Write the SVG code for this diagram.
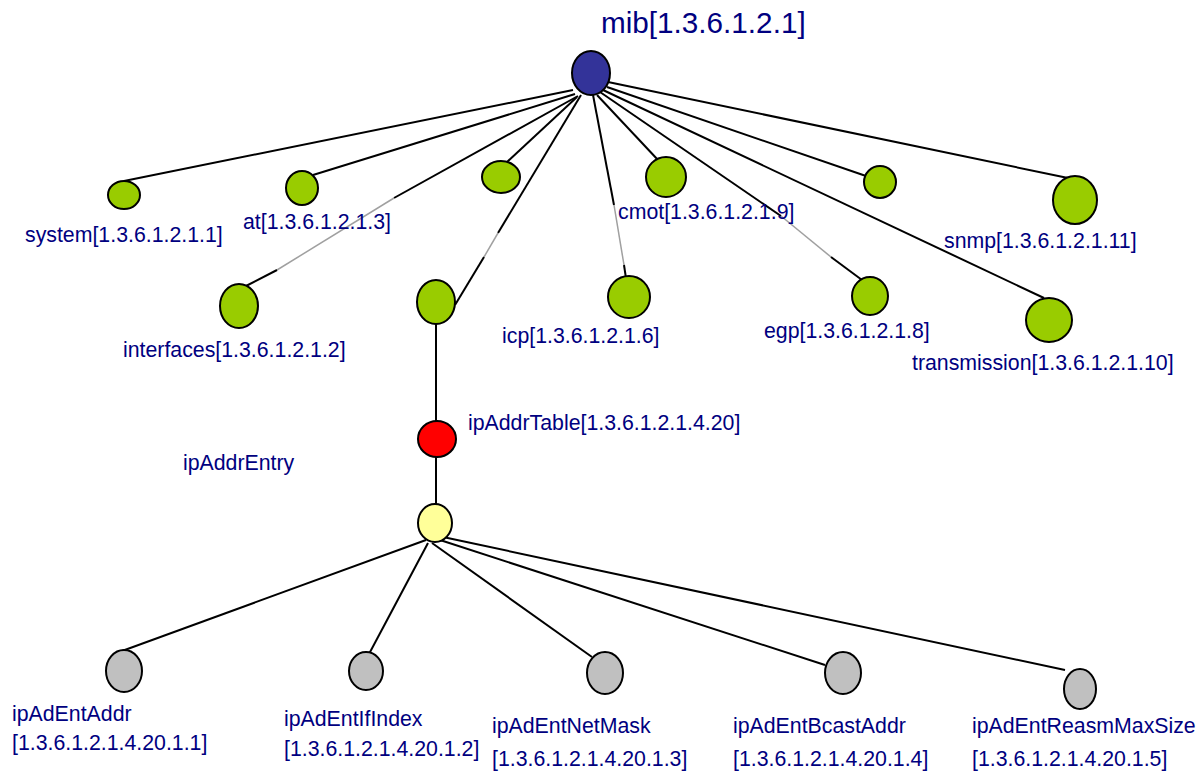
<svg xmlns="http://www.w3.org/2000/svg" width="1204" height="771" viewBox="0 0 1204 771">
  <style>
    .edge { stroke: #000; stroke-width: 2; fill: none; }
    .faint { stroke: #a0a0a0; stroke-width: 1.5; fill: none; }
    .node { stroke: #000; stroke-width: 2; }
    .root { fill: #333399; }
    .grp { fill: #99cc00; }
    .table { fill: #ff0000; }
    .entry { fill: #ffff99; }
    .leaf { fill: #c0c0c0; }
    text { font-family: "Liberation Sans", Arial, sans-serif; font-size: 21.3px; fill: #000080; }
    .title { font-size: 29.7px; }
  </style>
  <rect width="1204" height="771" fill="#fff"/>

  <!-- connectors -->
  <g id="connectors">
    <line class="edge" x1="573" y1="90" x2="124" y2="181"/>
    <line class="edge" x1="575" y1="94" x2="313" y2="175"/>
    <line class="edge" x1="577" y1="97" x2="507" y2="162"/>
    <!-- interfaces -->
    <line class="edge" x1="578" y1="96" x2="394" y2="198"/>
    <line class="faint" x1="394" y1="198" x2="277" y2="270"/>
    <line class="edge" x1="277" y1="270" x2="246" y2="286"/>
    <!-- ip -->
    <line class="edge" x1="581" y1="95" x2="498" y2="233"/>
    <line class="faint" x1="498" y1="233" x2="484" y2="257"/>
    <line class="edge" x1="484" y1="257" x2="455" y2="305"/>
    <!-- icp -->
    <line class="edge" x1="593" y1="95" x2="614" y2="205"/>
    <line class="faint" x1="614" y1="205" x2="624" y2="265"/>
    <line class="edge" x1="624" y1="265" x2="627" y2="285"/>
    <line class="edge" x1="597" y1="95" x2="658" y2="160"/>
    <!-- egp -->
    <line class="edge" x1="600" y1="92" x2="781" y2="216"/>
    <line class="faint" x1="781" y1="216" x2="831" y2="257"/>
    <line class="edge" x1="831" y1="257" x2="862" y2="280"/>
    <line class="edge" x1="603" y1="90" x2="1044" y2="298"/>
    <line class="edge" x1="607" y1="87" x2="866" y2="176"/>
    <line class="edge" x1="608" y1="82" x2="1068" y2="178"/>
    <!-- ip subtree -->
    <line class="edge" x1="436" y1="324" x2="436" y2="421"/>
    <line class="edge" x1="436" y1="457" x2="436" y2="504"/>
    <line class="edge" x1="426" y1="540" x2="122" y2="651"/>
    <line class="edge" x1="428" y1="543" x2="369" y2="654"/>
    <line class="edge" x1="432" y1="543" x2="592" y2="657"/>
    <line class="edge" x1="440" y1="540" x2="825" y2="665"/>
    <line class="edge" x1="443" y1="537" x2="1065" y2="670"/>
  </g>

  <g id="mib">
    <ellipse class="node root" cx="591" cy="73" rx="19" ry="22"/>
    <text class="title" x="601" y="33">mib[1.3.6.1.2.1]</text>
  </g>
  <g id="system">
    <ellipse class="node grp" cx="124" cy="195" rx="16" ry="14"/>
    <text x="25" y="242">system[1.3.6.1.2.1.1]</text>
  </g>
  <g id="at">
    <ellipse class="node grp" cx="302" cy="188" rx="16" ry="17"/>
    <text x="243" y="229">at[1.3.6.1.2.1.3]</text>
  </g>
  <g id="node-unnamed-1">
    <ellipse class="node grp" cx="501" cy="177" rx="19" ry="16"/>
  </g>
  <g id="interfaces">
    <ellipse class="node grp" cx="239" cy="306" rx="19" ry="22"/>
    <text x="123" y="357">interfaces[1.3.6.1.2.1.2]</text>
  </g>
  <g id="ip">
    <ellipse class="node grp" cx="436" cy="302" rx="19" ry="22"/>
  </g>
  <g id="cmot">
    <ellipse class="node grp" cx="666" cy="177" rx="20" ry="20"/>
    <text x="618" y="219">cmot[1.3.6.1.2.1.9]</text>
  </g>
  <g id="icp">
    <ellipse class="node grp" cx="629" cy="297" rx="21" ry="21"/>
    <text x="502" y="343">icp[1.3.6.1.2.1.6]</text>
  </g>
  <g id="egp">
    <ellipse class="node grp" cx="870" cy="296" rx="18" ry="19"/>
    <text x="764" y="338">egp[1.3.6.1.2.1.8]</text>
  </g>
  <g id="node-unnamed-2">
    <ellipse class="node grp" cx="880" cy="182" rx="16" ry="16"/>
  </g>
  <g id="snmp">
    <ellipse class="node grp" cx="1075" cy="200" rx="22" ry="24"/>
    <text x="944" y="248">snmp[1.3.6.1.2.1.11]</text>
  </g>
  <g id="transmission">
    <ellipse class="node grp" cx="1049" cy="320" rx="23" ry="22"/>
    <text x="912" y="370">transmission[1.3.6.1.2.1.10]</text>
  </g>
  <g id="ipAddrTable">
    <ellipse class="node table" cx="437" cy="439" rx="19" ry="18"/>
    <text x="468" y="430">ipAddrTable[1.3.6.1.2.1.4.20]</text>
  </g>
  <g id="ipAddrEntry">
    <ellipse class="node entry" cx="435" cy="523" rx="17" ry="19"/>
    <text x="183" y="470">ipAddrEntry</text>
  </g>
  <g id="ipAdEntAddr">
    <ellipse class="node leaf" cx="124" cy="671" rx="18" ry="21"/>
    <text x="12" y="721">ipAdEntAddr</text>
    <text x="12" y="750">[1.3.6.1.2.1.4.20.1.1]</text>
  </g>
  <g id="ipAdEntIfIndex">
    <ellipse class="node leaf" cx="366" cy="671" rx="17" ry="19"/>
    <text x="284" y="726">ipAdEntIfIndex</text>
    <text x="284" y="756">[1.3.6.1.2.1.4.20.1.2]</text>
  </g>
  <g id="ipAdEntNetMask">
    <ellipse class="node leaf" cx="605" cy="673" rx="18" ry="21"/>
    <text x="492" y="733">ipAdEntNetMask</text>
    <text x="492" y="766">[1.3.6.1.2.1.4.20.1.3]</text>
  </g>
  <g id="ipAdEntBcastAddr">
    <ellipse class="node leaf" cx="843" cy="673" rx="18" ry="21"/>
    <text x="733" y="733">ipAdEntBcastAddr</text>
    <text x="733" y="766">[1.3.6.1.2.1.4.20.1.4]</text>
  </g>
  <g id="ipAdEntReasmMaxSize">
    <ellipse class="node leaf" cx="1080" cy="689" rx="16" ry="20"/>
    <text x="972" y="733">ipAdEntReasmMaxSize</text>
    <text x="972" y="766">[1.3.6.1.2.1.4.20.1.5]</text>
  </g>
</svg>
